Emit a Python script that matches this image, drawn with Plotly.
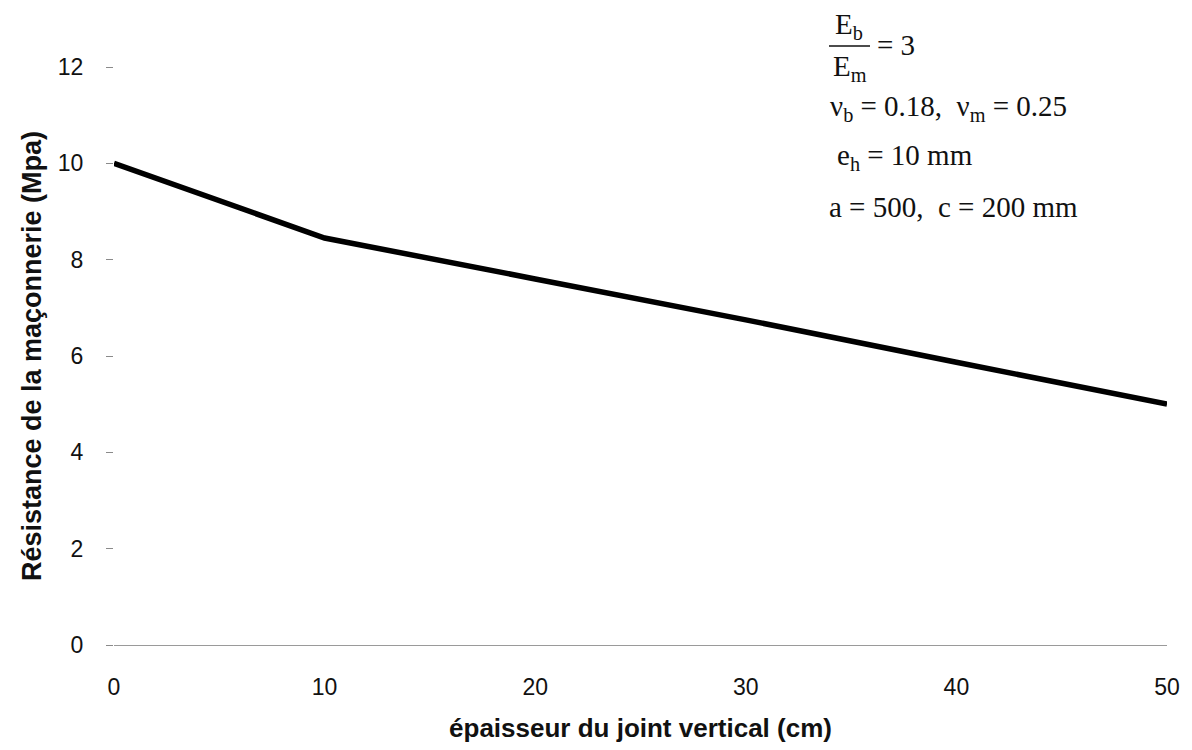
import plotly.graph_objects as go

# Masonry strength vs vertical joint thickness
joint_thickness_cm = [0, 10, 20, 30, 40, 50]
masonry_strength_mpa = [10.0, 8.45, 7.6, 6.75, 5.87, 5.0]

x_ticks = [0, 10, 20, 30, 40, 50]
y_ticks = [0, 2, 4, 6, 8, 10, 12]

W, H = 1192, 750
M_L, M_R, M_T, M_B = 114, 25, 67, 105

def px_to_paper(px, py):
    """Convert a pixel position on the page to paper coordinates."""
    pw = W - M_L - M_R
    ph = H - M_T - M_B
    return (px - M_L) / pw, (H - M_B - py) / ph

fig = go.Figure()
fig.add_trace(go.Scatter(
    x=joint_thickness_cm,
    y=masonry_strength_mpa,
    mode="lines",
    line=dict(color="black", width=5.5),
    cliponaxis=False,
    showlegend=False,
))

serif = dict(family="Liberation Serif, Times New Roman, serif", size=29, color="#111")

annotations = []
def note(text, px, py, xanchor="left"):
    x, y = px_to_paper(px, py)
    annotations.append(dict(text=text, x=x, y=y, xref="paper", yref="paper",
                            xanchor=xanchor, yanchor="middle", showarrow=False,
                            font=serif))

note("E<sub>b</sub>", 849, 26, "center")
note("E<sub>m</sub>", 850, 68, "center")
note("= 3", 875, 45)
note("ν<sub>b</sub> = 0.18,  ν<sub>m</sub> = 0.25", 828, 108)
note("e<sub>h</sub> = 10 mm", 835, 157)
note("a = 500,\u00a0 c = 200 mm", 827, 207)

bx0, by = px_to_paper(829, 46)
bx1, _ = px_to_paper(870, 46)

fig.update_layout(
    width=W, height=H,
    margin=dict(l=M_L, r=M_R, t=M_T, b=M_B),
    paper_bgcolor="white",
    plot_bgcolor="white",
    font=dict(family="Liberation Sans, Arial, sans-serif", color="#111"),
    annotations=annotations,
    shapes=[dict(type="line", xref="paper", yref="paper",
                 x0=bx0, x1=bx1, y0=by, y1=by,
                 line=dict(color="#111", width=1.5))],
    xaxis=dict(
        range=[0, 50],
        tickvals=x_ticks,
        ticks="",
        showgrid=False,
        zeroline=False,
        showline=True,
        linecolor="#9a9a9a",
        linewidth=1,
        tickfont=dict(size=23, color="#111"),
        ticklabelstandoff=21,
        title=dict(text="<b>épaisseur du joint vertical (cm)</b>",
                   font=dict(size=26, color="#111"), standoff=20),
    ),
    yaxis=dict(
        range=[0, 12],
        tickvals=y_ticks,
        ticks="outside",
        ticklen=7,
        tickcolor="#8a8a8a",
        showgrid=False,
        zeroline=False,
        showline=False,
        tickfont=dict(size=23, color="#111"),
        ticklabelstandoff=18,
        title=dict(text="<b>Résistance de la maçonnerie (Mpa)</b>",
                   font=dict(size=27, color="#111"), standoff=8),
    ),
)

fig.write_html("out.html")
